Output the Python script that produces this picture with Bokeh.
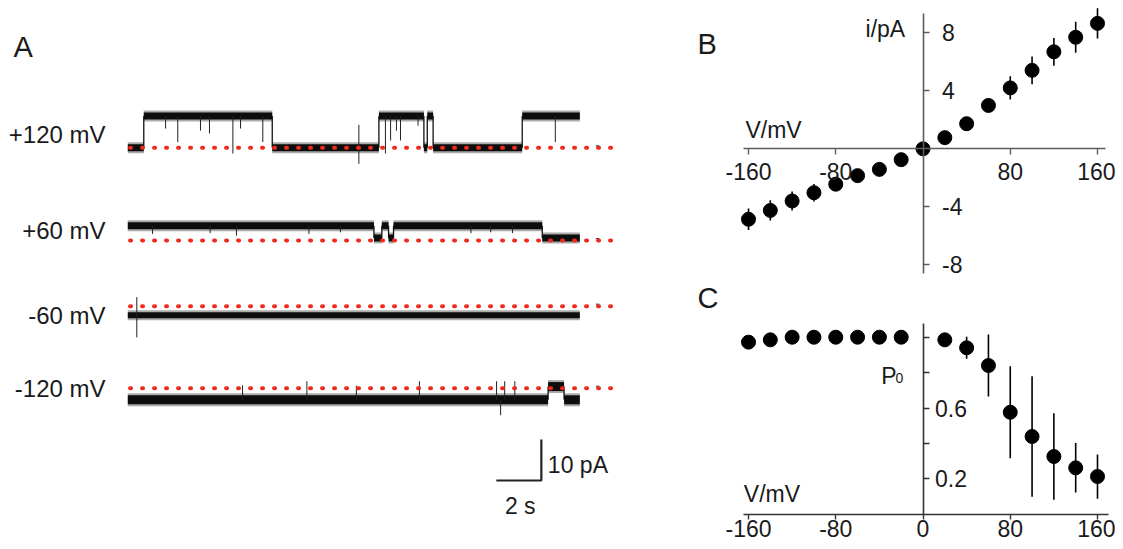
from bokeh.plotting import figure
from bokeh.models import LinearAxis, FixedTicker, Range1d, Label
from bokeh.layouts import row, column
from bokeh.embed import file_html
from bokeh.resources import INLINE
from bokeh.core.properties import value

FONT = "Liberation Sans"
INK = "#1a1a1a"
RED = "#f0281e"

# ---------------- Panel A data (single-channel traces, pA vs s) ----------------
row_labels = ["+120 mV", "+60 mV", "-60 mV", "-120 mV"]

edges_p120 = [0.0, 0.71, 6.42, 11.16, 13.16, 13.31, 13.57, 17.53, 20.09]
states_p120 = [0, 1, 0, 1, 0, 1, 0, 1]
levels_p120 = (0.0, 7.76)          # (closed, open) pA
spk_t_p120 = [1.68, 2.22, 3.23, 3.63, 4.67, 5.01, 6.00, 10.27, 11.45, 11.68, 11.94, 12.12, 12.90, 19.00]
spk_lo_p120 = [4.7, 1.4, 4.2, 3.5, -1.4, 4.7, 1.4, -3.9, -1.4, 1.8, 4.2, 1.8, 5.4, 1.4]
spk_hi_p120 = [7.76, 7.76, 7.76, 7.76, 7.76, 7.76, 7.76, 5.6, 7.76, 7.76, 7.76, 7.76, 7.76, 7.76]

edges_p60 = [0.0, 10.94, 11.29, 11.59, 11.81, 18.42, 20.09]
states_p60 = [1, 0, 1, 0, 1, 0]
levels_p60 = (0.6, 3.6)
spk_t_p60 = [1.10, 3.66, 4.83, 8.05, 9.45, 15.25, 16.13, 17.10]
spk_lo_p60 = [1.6, 1.8, 1.2, 1.6, 2.0, 1.8, 2.0, 1.8]
spk_hi_p60 = [3.6, 3.6, 3.6, 3.6, 3.6, 3.6, 3.6, 3.6]

edges_m60 = [0.0, 20.09]
states_m60 = [1]
levels_m60 = (0.0, -2.2)
spk_t_m60 = [0.40]
spk_lo_m60 = [-7.6]
spk_hi_m60 = [2.2]

edges_m120 = [0.0, 18.68, 19.39, 20.09]
states_m120 = [1, 0, 1]
levels_m120 = (0.4, -2.83)
spk_t_m120 = [5.10, 7.96, 10.16, 12.96, 16.39, 16.57, 16.75, 17.20]
spk_lo_m120 = [-2.83, -2.83, -2.83, -2.83, -2.83, -6.6, -2.83, -2.83]
spk_hi_m120 = [0.7, 1.7, 0.6, 1.7, 1.7, -2.83, 1.7, 1.7]

trace_end_dots = 21.8      # s, end of the zero-current dotted line
scalebar_pA = 10
scalebar_s = 2

# ---------------- Panel B data (i-V) ----------------
V = [-160, -140, -120, -100, -80, -60, -40, -20, 0, 20, 40, 60, 80, 100, 120, 140, 160]
I_pA = [-4.86, -4.25, -3.6, -3.03, -2.44, -1.85, -1.42, -0.75, 0.0, 0.77, 1.73, 2.99,
        4.2, 5.41, 6.69, 7.69, 8.65]
I_err = [0.74, 0.7, 0.65, 0.6, 0.45, 0.3, 0.3, 0.2, 0.1, 0.3, 0.3, 0.4,
         0.8, 0.96, 0.96, 1.07, 1.05]

# ---------------- Panel C data (Po-V) ----------------
V_po = [-160, -140, -120, -100, -80, -60, -40, -20, 20, 40, 60, 80, 100, 120, 140, 160]
Po = [0.972, 0.985, 1.0, 1.0, 1.0, 1.0, 1.0, 1.0, 0.985, 0.94, 0.84, 0.576, 0.439,
      0.326, 0.262, 0.213]
Po_err = [0, 0, 0, 0, 0, 0, 0, 0, 0.02, 0.062, 0.175, 0.26, 0.34, 0.245, 0.14, 0.125]

# ---------------- layout (positions) ----------------
A_W, RIGHT_W = 692, 423
TOTAL_H = 541
B_H, C_H = 279, 262
row_base = [-33.98, -56.59, -72.61, -92.61]      # zero-current level of each trace
row_label_y = [-30.78, -54.15, -74.8, -92.63]
trace_width = [8, 8, 7, 10]


def base_fig(w, h, xr, yr):
    p = figure(width=w, height=h, x_range=Range1d(*xr), y_range=Range1d(*yr),
               output_backend="svg", toolbar_location=None,
               x_axis_location=None, y_axis_location=None,
               min_border=0, min_border_left=0, min_border_right=0,
               min_border_top=0, min_border_bottom=0)
    p.outline_line_color = None
    p.background_fill_color = "white"
    p.border_fill_color = "white"
    p.grid.visible = False
    return p


def label(p, x, y, text, size, align="left", color=INK):
    p.add_layout(Label(x=x, y=y, text=text, text_font=FONT, text_font_size=size,
                       text_align=align, text_baseline="middle", text_color=color))


def axis(loc, ticks, bounds, color, tick_out, standoff, overrides):
    return LinearAxis(fixed_location=loc, ticker=FixedTicker(ticks=ticks, minor_ticks=[]),
                      bounds=bounds, axis_line_color=color, axis_line_width=1.6,
                      major_tick_line_color=color, major_tick_line_width=1.4,
                      major_tick_out=tick_out, major_tick_in=0, major_label_standoff=standoff,
                      major_label_overrides=overrides,
                      major_label_text_font=FONT, major_label_text_font_size="23px",
                      major_label_text_color=INK)


# ================= Panel A =================
pa = base_fig(A_W, TOTAL_H, (-5.658, 25.098), (-130.0, 1.951))

traces = [
    (edges_p120, states_p120, levels_p120, spk_t_p120, spk_lo_p120, spk_hi_p120),
    (edges_p60, states_p60, levels_p60, spk_t_p60, spk_lo_p60, spk_hi_p60),
    (edges_m60, states_m60, levels_m60, spk_t_m60, spk_lo_m60, spk_hi_m60),
    (edges_m120, states_m120, levels_m120, spk_t_m120, spk_lo_m120, spk_hi_m120),
]

for k, (edges, states, levels, st, slo, shi) in enumerate(traces):
    b = row_base[k]
    y_lv = [b + levels[s] for s in states]
    # noise halo + dwell segments
    pa.segment(x0=edges[:-1], y0=y_lv, x1=edges[1:], y1=y_lv,
               line_color="#444444", line_alpha=0.45, line_width=trace_width[k] + 3, line_cap="butt")
    pa.segment(x0=edges[:-1], y0=y_lv, x1=edges[1:], y1=y_lv,
               line_color="#0d0d0d", line_width=trace_width[k] - 1, line_cap="butt")
    # transitions
    if len(edges) > 2:
        tx = edges[1:-1]
        pa.segment(x0=tx, y0=[b + levels[0]] * len(tx), x1=tx, y1=[b + levels[1]] * len(tx),
                   line_color="#111111", line_width=1.3)
    # brief events / spikes
    pa.segment(x0=st, y0=[b + v for v in slo], x1=st, y1=[b + v for v in shi],
               line_color="#222222", line_width=1)
    # zero-current dotted line (on top of the trace)
    pa.line([0.1, trace_end_dots], [b, b], line_color=RED, line_width=4,
            line_dash="1 11", line_cap="round")
    # small end mark
    pa.segment(x0=[20.8], y0=[b + 0.5], x1=[20.95], y1=[b + 0.5], line_color="#444444", line_width=1)

pa.text(x=[-0.99] * 4, y=row_label_y, text=row_labels, text_font=value(FONT),
        text_font_size="24px", text_align="right", text_baseline="middle", text_color=INK)

# scale bar
sb_t, sb_y = 16.38, -115.12
pa.line([sb_t, sb_t + scalebar_s, sb_t + scalebar_s],
        [sb_y, sb_y, sb_y + scalebar_pA], line_color="#222222", line_width=2.2)
label(pa, 18.67, -111.27, "10 pA", "23px")
label(pa, 16.76, -121.22, "2 s", "23px")
label(pa, -5.08, -9.51, "A", "29px")

# ================= Panel B =================
pb = base_fig(RIGHT_W, B_H, (-211.35, 176.5), (-9.014, 10.228))
AX_B = "#5c5c5c"
pb.add_layout(axis(0, [-160, -80, 80, 160], (-164.5, 167), AX_B, 6, 8,
                   {-160: "-160", -80: "-80"}), "below")
pb.add_layout(axis(0, [-8, -4, 4, 8], (-8.62, 9.31), AX_B, 6, 13,
                   {-8: "-8", -4: "-4"}), "right")
pb.segment(x0=V, y0=[a - e for a, e in zip(I_pA, I_err)], x1=V,
           y1=[a + e for a, e in zip(I_pA, I_err)], line_color="black", line_width=1.6)
pb.scatter(V, I_pA, marker="circle", size=14, fill_color="black", line_color="black")
label(pb, -206.8, 7.21, "B", "29px")
label(pb, -162.8, 1.33, "V/mV", "23px")
label(pb, -52.7, 8.23, "i/pA", "23px")

# ================= Panel C =================
pc = base_fig(RIGHT_W, C_H, (-211.35, 176.5), (-0.1542, 1.326))
AX_C = "#333333"
pc.add_layout(axis(0, [-160, -80, 0, 80, 160], (-164.8, 170.3), AX_C, 5, 1,
                   {-160: "-160", -80: "-80"}), "below")
pc.add_layout(axis(0, [0.2, 0.4, 0.6, 0.8, 1.0], (0, 1.076), AX_C, 6, 6,
                   {0.4: "", 0.8: "", 1.0: ""}), "right")
pc.segment(x0=V_po, y0=[a - e for a, e in zip(Po, Po_err)], x1=V_po,
           y1=[a + e for a, e in zip(Po, Po_err)], line_color="black", line_width=1.6)
pc.scatter(V_po, Po, marker="circle", size=14, fill_color="black", line_color="black")
label(pc, -206.8, 1.2226, "C", "29px")
label(pc, -164.3, 0.1124, "V/mV", "23px")
label(pc, -38.3, 0.7836, "P", "23px")
label(pc, -25.2, 0.768, "0", "14px")

layout = row(pa, column(pb, pc))
open("out.html", "w").write(file_html(layout, INLINE))
